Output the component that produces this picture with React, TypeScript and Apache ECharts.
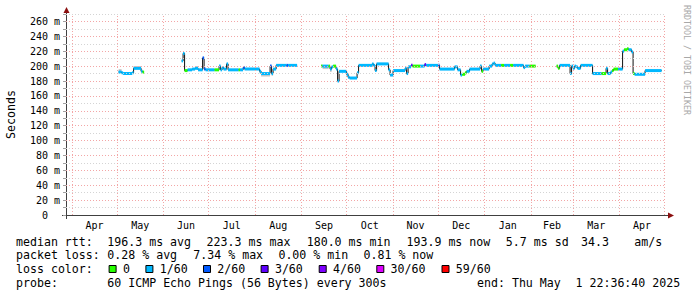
import { useEffect, useRef } from 'react';
import * as echarts from 'echarts';

// [step start date, median rtt (ms) or null = no data, loss colour index, smoke spread (ms, signed)]
type Step = [string, number | null, number, number];

const segMay: Step[] = [
  ['2024-05-02', 192, 1, 4],
  ['2024-05-04', 191, 1, 0],
  ['2024-05-05', 190, 1, 0],
  ['2024-05-11', 191, 1, 0],
  ['2024-05-12', 197, 1, 3],
  ['2024-05-17', 193, 1, 0],
  ['2024-05-18', 192, 0, 0],
  ['2024-05-19', null, 0, 0],
];

const segJunAug: Step[] = [
  ['2024-06-13', 207, 1, 0],
  ['2024-06-14', 217, 1, 0],
  ['2024-06-15', 194, 0, 0],
  ['2024-06-17', 195, 1, 0],
  ['2024-06-20', 196, 1, 0],
  ['2024-06-22', 197, 1, 3],
  ['2024-06-24', 195, 1, 0],
  ['2024-06-27', 211, 2, 0],
  ['2024-06-28', 196, 2, 0],
  ['2024-06-29', 195, 1, 0],
  ['2024-07-05', 195, 0, 0],
  ['2024-07-08', 200, 1, 0],
  ['2024-07-09', 195, 1, 0],
  ['2024-07-10', 198, 1, 0],
  ['2024-07-11', 196, 1, 0],
  ['2024-07-13', 203, 1, 0],
  ['2024-07-14', 195, 1, 0],
  ['2024-07-21', 195, 0, 0],
  ['2024-07-22', 195, 1, 0],
  ['2024-07-24', 198, 2, 0],
  ['2024-07-25', 196, 1, 0],
  ['2024-08-04', 193, 1, -3],
  ['2024-08-05', 190, 1, -4],
  ['2024-08-11', 200, 2, 0],
  ['2024-08-12', 190, 1, -3],
  ['2024-08-13', 196, 1, 0],
  ['2024-08-15', 201, 1, 0],
  ['2024-08-22', 201, 2, 0],
  ['2024-08-23', 201, 1, 0],
  ['2024-08-29', null, 0, 0],
];

const segSepJan: Step[] = [
  ['2024-09-14', 200, 0, 0],
  ['2024-09-15', 200, 1, -4],
  ['2024-09-19', 200, 0, 0],
  ['2024-09-20', 196, 1, -4],
  ['2024-09-21', 199, 1, 0],
  ['2024-09-22', 200, 0, 0],
  ['2024-09-24', 196, 1, 0],
  ['2024-09-25', 180, 1, 0],
  ['2024-09-26', 193, 1, 0],
  ['2024-10-01', 189, 1, 0],
  ['2024-10-02', 185, 1, 0],
  ['2024-10-03', 184, 1, 0],
  ['2024-10-08', 191, 1, 0],
  ['2024-10-09', 201, 1, 0],
  ['2024-10-18', 203, 1, 0],
  ['2024-10-19', 201, 1, 0],
  ['2024-10-20', 194, 1, 0],
  ['2024-10-21', 203, 1, 0],
  ['2024-10-29', 195, 1, 0],
  ['2024-10-30', 188, 1, 0],
  ['2024-11-01', 194, 1, 0],
  ['2024-11-09', 197, 1, 0],
  ['2024-11-10', 190, 1, 0],
  ['2024-11-11', 199, 1, 0],
  ['2024-11-13', 201, 3, 0],
  ['2024-11-14', 200, 0, 0],
  ['2024-11-19', 200, 1, 0],
  ['2024-11-22', 202, 3, 0],
  ['2024-11-23', 201, 1, 0],
  ['2024-12-01', 201, 2, 0],
  ['2024-12-02', 196, 1, 0],
  ['2024-12-12', 199, 1, 0],
  ['2024-12-14', 195, 1, 0],
  ['2024-12-16', 188, 1, 0],
  ['2024-12-17', 189, 0, 0],
  ['2024-12-19', 191, 0, 0],
  ['2024-12-20', 193, 1, 0],
  ['2024-12-22', 196, 1, 0],
  ['2024-12-29', 200, 1, 0],
  ['2024-12-30', 193, 0, 0],
  ['2024-12-31', 196, 1, 0],
  ['2025-01-04', 200, 1, 0],
  ['2025-01-06', 203, 1, 0],
  ['2025-01-07', 204, 1, 0],
  ['2025-01-08', 201, 1, 0],
  ['2025-01-12', 201, 0, 0],
  ['2025-01-14', 201, 1, 0],
  ['2025-01-18', 201, 0, 0],
  ['2025-01-20', 201, 1, 0],
  ['2025-01-27', 198, 1, 0],
  ['2025-01-28', 200, 1, 0],
  ['2025-01-31', 200, 0, 0],
  ['2025-02-04', null, 0, 0],
];

const segFebApr: Step[] = [
  ['2025-02-18', 200, 0, 0],
  ['2025-02-19', 197, 0, 0],
  ['2025-02-20', 201, 1, 0],
  ['2025-02-27', 190, 1, 0],
  ['2025-02-28', 200, 1, 0],
  ['2025-03-01', 197, 1, 0],
  ['2025-03-02', 200, 1, 0],
  ['2025-03-03', 199, 1, 0],
  ['2025-03-04', 197, 1, 0],
  ['2025-03-06', 201, 1, 0],
  ['2025-03-14', 190, 1, 2],
  ['2025-03-20', 190, 0, 0],
  ['2025-03-23', 197, 1, 0],
  ['2025-03-24', 190, 1, 0],
  ['2025-03-26', 192, 1, 0],
  ['2025-03-27', 194, 0, 0],
  ['2025-03-28', 196, 0, 0],
  ['2025-03-31', 196, 1, 0],
  ['2025-04-03', 220, 1, 0],
  ['2025-04-04', 222, 0, 0],
  ['2025-04-06', 223.3, 0, 0],
  ['2025-04-07', 222, 1, 0],
  ['2025-04-09', 219, 1, 0],
  ['2025-04-10', 190, 0, 0],
  ['2025-04-11', 189, 1, 0],
  ['2025-04-18', 194, 1, 0],
  ['2025-04-29', null, 0, 0],
];

const lossColors = ['#26ff00', '#00b8ff', '#0059ff', '#5e00ff', '#7e00ff', '#dd00ff', '#ff0000'];
const lossLabels = ['0', '1/60', '2/60', '3/60', '4/60', '30/60', '59/60'];

const monthStarts = [
  '2024-04-01', '2024-05-01', '2024-06-01', '2024-07-01', '2024-08-01', '2024-09-01', '2024-10-01',
  '2024-11-01', '2024-12-01', '2025-01-01', '2025-02-01', '2025-03-01', '2025-04-01', '2025-05-01',
];
const monthNames = ['Apr', 'May', 'Jun', 'Jul', 'Aug', 'Sep', 'Oct', 'Nov', 'Dec', 'Jan', 'Feb', 'Mar', 'Apr'];

const rttStats = ['median rtt:', '196.3 ms avg', '223.3 ms max', '180.0 ms min', '193.9 ms now', '5.7 ms sd', '34.3', 'am/s'];
const lossStats = ['packet loss:', '0.28 % avg', '7.34 % max', '0.00 % min', '0.81 % now'];
const probeText = ['probe:', '60 ICMP Echo Pings (56 Bytes) every 300s'];
const endText = ['end: Thu May', '1 22:36:40 2025'];

// graph covers the 400 days that end at END_TIME
const END_TIME = Date.UTC(2025, 4, 1, 22, 36, 40);
const SPAN_DAYS = 400;
const START_TIME = END_TIME - SPAN_DAYS * 86400000;
const Y_MAX = 270;

const MONO = '"DejaVu Sans Mono", monospace';
const PINK = '#f3a6a6';
const GRAY = '#d4d4d4';

const dayOf = (d: string | number) => ((typeof d === 'string' ? Date.parse(d) : d) - START_TIME) / 86400000;

function buildOption() {
  const segments = [segMay, segJunAug, segSepJan, segFebApr];
  const bars: number[][] = [];
  const linePts: (number | null)[][] = [];
  segments.forEach((seg) => {
    for (let i = 0; i < seg.length - 1; i++) {
      const [d, v, l, s] = seg[i];
      if (v == null) continue;
      const t0 = dayOf(d);
      const t1 = dayOf(seg[i + 1][0]);
      bars.push([t0, t1, v, l, s]);
      linePts.push([t0, v]);
    }
    const last = seg[seg.length - 1];
    const prev = seg[seg.length - 2];
    linePts.push([dayOf(last[0]), prev[1] as number]);
    linePts.push([dayOf(last[0]), null]);
  });

  const monthX = monthStarts.map((d) => dayOf(d));
  const monthMids = monthNames.map((_, i) => (monthX[i] + monthX[i + 1]) / 2);

  const gridLines: any[] = [];
  for (let v = 10; v <= 270; v += 10) {
    gridLines.push({ yAxis: v, lineStyle: { color: v % 20 === 0 ? PINK : GRAY, type: [1, 2], width: 1 } });
  }
  monthX.forEach((t) => {
    gridLines.push({ xAxis: t, lineStyle: { color: PINK, type: [1, 2], width: 1 } });
  });

  const txt = (x: number, y: number, text: string, extra: any = {}) => ({
    type: 'text',
    x,
    y,
    silent: true,
    style: {
      text,
      font: `11.6px ${MONO}`,
      fill: '#000',
      textAlign: 'left',
      textVerticalAlign: 'middle',
      ...extra,
    },
  });

  const graphics: any[] = [];
  graphics.push({ type: 'line', silent: true, shape: { x1: 62, y1: 215.5, x2: 669, y2: 215.5 }, style: { stroke: '#404040', lineWidth: 1 } });
  graphics.push({ type: 'line', silent: true, shape: { x1: 66.5, y1: 219, x2: 66.5, y2: 11 }, style: { stroke: '#404040', lineWidth: 1 } });
  graphics.push({ type: 'polygon', silent: true, shape: { points: [[668, 212.5], [674, 215.5], [668, 218.5]] }, style: { fill: '#8b1010' } });
  graphics.push({ type: 'polygon', silent: true, shape: { points: [[63.5, 13], [66.5, 7], [69.5, 13]] }, style: { fill: '#8b1010' } });

  const rttX = [16, 107.3, 206.6, 306.7, 406.5, 505.8, 581, 634.3];
  rttStats.forEach((s, i) => graphics.push(txt(rttX[i], 241.5, s)));
  const lossX = [16, 107.3, 193.3, 278.4, 363.5];
  lossStats.forEach((s, i) => graphics.push(txt(lossX[i], 255.3, s)));
  graphics.push(txt(16, 269, 'loss color:'));
  const boxX = [108.6, 145.4, 203, 260.6, 318.7, 376.3, 441.5];
  lossLabels.forEach((lab, i) => {
    graphics.push({
      type: 'rect',
      silent: true,
      shape: { x: boxX[i] + 0.5, y: 265.5, width: 7, height: 7 },
      style: { fill: lossColors[i], stroke: '#000', lineWidth: 1 },
    });
    graphics.push(txt(boxX[i] + 14.3, 269, lab));
  });
  graphics.push(txt(16, 282.8, probeText[0]));
  graphics.push(txt(107.3, 282.8, probeText[1]));
  graphics.push(txt(477, 282.8, endText[0]));
  graphics.push(txt(575.5, 282.8, endText[1]));
  graphics.push({
    type: 'text',
    x: 687,
    y: 5,
    rotation: -Math.PI / 2,
    silent: true,
    style: {
      text: 'RRDTOOL / TOBI OETIKER',
      font: `8.3px ${MONO}`,
      fill: '#a8a8a8',
      textAlign: 'left',
      textVerticalAlign: 'middle',
    },
  });

  return {
    animation: false,
    backgroundColor: '#ffffff',
    grid: { left: 66, right: 31, top: 14, bottom: 82, containLabel: false, outerBoundsMode: 'none' },
    xAxis: {
      type: 'value',
      min: 0,
      max: SPAN_DAYS,
      interval: 50,
      axisLine: { show: false },
      axisTick: { show: false },
      splitLine: { show: false },
      axisLabel: {
        customValues: monthMids,
        fontFamily: MONO,
        fontSize: 10,
        color: '#000',
        margin: 5,
        hideOverlap: false,
        showMinLabel: true,
        showMaxLabel: true,
        formatter: (v: number) => {
          let best = 0;
          let bd = Infinity;
          monthMids.forEach((m, i) => {
            const dd = Math.abs(m - v);
            if (dd < bd) { bd = dd; best = i; }
          });
          return monthNames[best];
        },
      },
    },
    yAxis: {
      type: 'value',
      min: 0,
      max: Y_MAX,
      interval: 10,
      axisLine: { show: false },
      axisTick: { show: true, length: 3, lineStyle: { color: '#a0a0a0' } },
      splitLine: { show: false },
      name: 'Seconds',
      nameLocation: 'middle',
      nameGap: 49,
      nameRotate: 90,
      nameMoveOverlap: false,
      nameTextStyle: { fontFamily: MONO, fontSize: 11.6, color: '#000' },
      axisLabel: {
        fontFamily: MONO,
        fontSize: 10,
        color: '#000',
        margin: 6,
        formatter: (v: number) => (v === 0 ? '{z|0}' : v % 20 === 0 ? '{a|' + v + ' m}' : ''),
        rich: {
          a: { fontFamily: MONO, fontSize: 10, color: '#000' },
          z: { fontFamily: MONO, fontSize: 10, color: '#000', padding: [0, 12, 0, 0] },
        },
      },
    },
    graphic: graphics,
    series: [
      {
        type: 'custom',
        name: 'smoke',
        z: 1,
        silent: true,
        data: bars.filter((b) => b[4] !== 0),
        encode: { x: [0, 1], y: 2 },
        renderItem: (_p: any, api: any) => {
          const t0 = api.value(0), t1 = api.value(1), v = api.value(2), s = api.value(4);
          const a = api.coord([t0, v]);
          const b = api.coord([t1, v + s]);
          return {
            type: 'rect',
            shape: { x: a[0], y: Math.min(a[1], b[1]), width: b[0] - a[0], height: Math.abs(b[1] - a[1]) },
            style: { fill: '#c8c8c8' },
          };
        },
        markLine: {
          silent: true,
          symbol: ['none', 'none'],
          label: { show: false },
          emphasis: { disabled: true },
          data: gridLines,
        },
      },
      {
        type: 'line',
        name: 'median',
        z: 2,
        silent: true,
        step: 'end',
        showSymbol: false,
        symbol: 'none',
        connectNulls: false,
        lineStyle: { color: '#101010', width: 1 },
        data: linePts,
      },
      {
        type: 'custom',
        name: 'loss',
        z: 3,
        silent: true,
        data: bars,
        encode: { x: [0, 1], y: 2 },
        renderItem: (_p: any, api: any) => {
          const t0 = api.value(0), t1 = api.value(1), v = api.value(2), l = api.value(3);
          const a = api.coord([t0, v]);
          const b = api.coord([t1, v]);
          return {
            type: 'rect',
            shape: { x: a[0], y: a[1] - 1.5, width: b[0] - a[0], height: 3 },
            style: { fill: lossColors[l] },
          };
        },
      },
    ],
  };
}

export default function App() {
  const ref = useRef<HTMLDivElement>(null);
  useEffect(() => {
    if (!ref.current) return;
    const chart = echarts.init(ref.current, null, { renderer: 'svg', width: 697, height: 297 });
    chart.setOption(buildOption() as any);
    return () => chart.dispose();
  }, []);
  return (
    <div
      ref={ref}
      style={{ position: 'fixed', left: 0, top: 0, width: 697, height: 297, background: '#fff' }}
    />
  );
}
